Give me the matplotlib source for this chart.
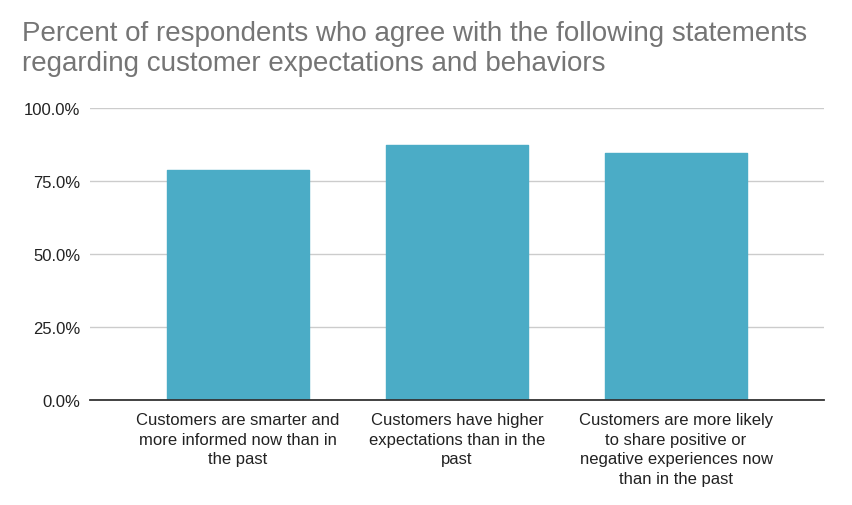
import matplotlib.pyplot as plt
from matplotlib.ticker import FuncFormatter

plt.rcParams['font.family'] = ['Liberation Sans', 'DejaVu Sans']

title_lines = [
    "Percent of respondents who agree with the following statements",
    "regarding customer expectations and behaviors",
]
categories = [
    "Customers are smarter and\nmore informed now than in\nthe past",
    "Customers have higher\nexpectations than in the\npast",
    "Customers are more likely\nto share positive or\nnegative experiences now\nthan in the past",
]
agree_pct = [78.7, 87.4, 84.7]
y_ticks = [0, 25, 50, 75, 100]

bar_color = "#4BACC6"

fig = plt.figure(figsize=(8.52, 5.06), dpi=100)
ax = fig.add_axes([90 / 852, 1 - 400.7 / 506, 734 / 852, 291.4 / 506])

x = range(len(categories))
ax.bar(x, agree_pct, width=0.649, color=bar_color, edgecolor=bar_color,
       linewidth=1, joinstyle='round', zorder=3)

ax.set_xlim(-0.675, 2.675)
ax.set_ylim(0, 100)
ax.set_yticks(y_ticks)
ax.yaxis.set_major_formatter(FuncFormatter(lambda v, _: f"{v:.1f}%"))
ax.set_xticks(list(x))
ax.set_xticklabels(categories, fontsize=12, color="#222222", linespacing=1.38)

ax.tick_params(axis='y', length=0, pad=7, labelsize=12, labelcolor="#222222")
ax.tick_params(axis='x', length=0, pad=9)
ax.grid(axis='y', color="#cccccc", linewidth=1, zorder=0)

for side in ['top', 'right', 'left']:
    ax.spines[side].set_visible(False)
ax.spines['bottom'].set_color("#333333")
ax.spines['bottom'].set_linewidth(1.3)
ax.spines['bottom'].set_zorder(4)

fig.text(22 / 852, 1 - 41 / 506, title_lines[0], fontsize=20, color="#757575",
         va='baseline', ha='left')
fig.text(22 / 852, 1 - 71 / 506, title_lines[1], fontsize=20, color="#757575",
         va='baseline', ha='left')

fig.savefig("out.png", dpi=100)
